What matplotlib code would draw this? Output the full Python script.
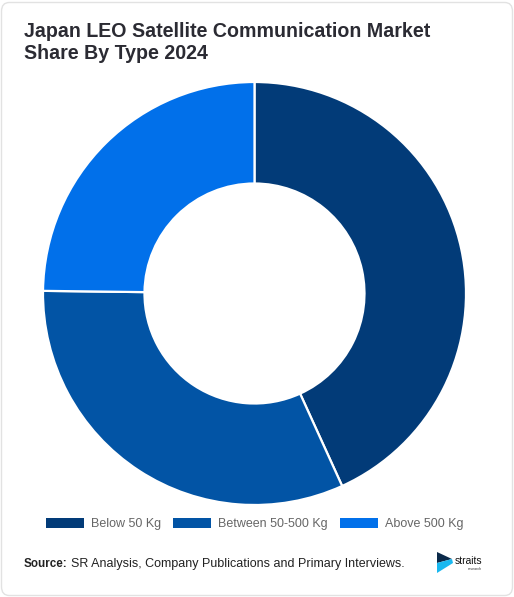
import matplotlib
matplotlib.use("Agg")
import matplotlib.pyplot as plt
from matplotlib.patches import Rectangle, FancyBboxPatch, Polygon

categories = ["Below 50 Kg", "Between 50-500 Kg", "Above 500 Kg"]
shares = [43.2, 32.0, 24.8]
colors = ["#023b78", "#0254a5", "#0170ea"]
title = "Japan LEO Satellite Communication Market\nShare By Type 2024"

W, H = 514, 597
fig = plt.figure(figsize=(W / 100, H / 100), dpi=100)
fig.patch.set_facecolor("white")

def fx(px):
    return px / W

def fy(py):
    return 1 - py / H

# card border
card = FancyBboxPatch((fx(1.5), fy(595.5)), fx(511), 593 / H,
                      boxstyle="round,pad=0,rounding_size=0.015",
                      transform=fig.transFigure, facecolor="none",
                      edgecolor="#e2e2e2", linewidth=1.0, zorder=-1)
fig.patches.append(card)

# donut
cx, cy, r = 254.5, 293.5, 211.5
ax = fig.add_axes([fx(cx - r), fy(cy + r), 2 * r / W, 2 * r / H])
ax.pie(shares, colors=colors, startangle=90, counterclock=False, radius=1.0,
       wedgeprops=dict(width=1 - 110.0 / 211.5, edgecolor="white", linewidth=1.6))
ax.set_xlim(-1, 1)
ax.set_ylim(-1, 1)
ax.set_aspect("auto")
ax.axis("off")

# title
fig.text(fx(24), fy(22), title, ha="left", va="top", fontsize=14.1,
         family="Liberation Sans", weight="bold", color="#2b2b33",
         linespacing=1.2)

# legend
patch_x = [46, 173, 340]
for i, (lab, col) in enumerate(zip(categories, colors)):
    x0 = patch_x[i]
    fig.patches.append(Rectangle((fx(x0), fy(528)), fx(38), 10 / H,
                                 transform=fig.transFigure, facecolor=col,
                                 edgecolor="none"))
    fig.text(fx(x0 + 45), fy(523.5), lab, ha="left", va="center",
             fontsize=9.0, family="Liberation Sans", color="#666666")

# source line
fig.text(fx(24), fy(564), "Source:", ha="left", va="center", fontsize=8.4,
         family="Liberation Sans", weight="bold", color="#222222")
fig.text(fx(71), fy(564), "SR Analysis, Company Publications and Primary Interviews.",
         ha="left", va="center", fontsize=9.0, family="Liberation Sans",
         color="#222222")

# logo
fig.patches.append(Polygon([(fx(437), fy(552)), (fx(452), fy(559)), (fx(437), fy(563))],
                           closed=True, transform=fig.transFigure,
                           facecolor="#0b2a4a", edgecolor="none"))
fig.patches.append(Polygon([(fx(437), fy(563)), (fx(452), fy(559)), (fx(453), fy(563)),
                            (fx(437), fy(573))],
                           closed=True, transform=fig.transFigure,
                           facecolor="#19b8f0", edgecolor="none"))
fig.text(fx(455), fy(561), "straits", ha="left", va="center", fontsize=7.4,
         family="Liberation Sans", color="#111111")
fig.text(fx(468), fy(569.5), "research", ha="left", va="center", fontsize=2.6,
         family="Liberation Sans", color="#333333")

fig.savefig("out.png", dpi=100, facecolor="white")
